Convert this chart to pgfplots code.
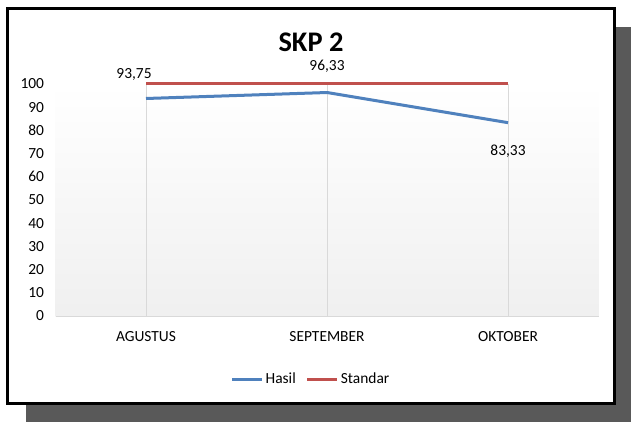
\documentclass[border=0pt]{standalone}
\usepackage{pgfplots}
\pgfplotsset{compat=1.18}
\usepackage{fontspec}
\setmainfont{Carlito}
\definecolor{hasil}{HTML}{4F81BD}
\definecolor{standar}{HTML}{C0504D}
\definecolor{gridc}{HTML}{D9D9D9}
\definecolor{shadowc}{HTML}{595959}
\begin{document}
\begin{tikzpicture}[x=1bp,y=1bp]
\useasboundingbox (0,0) rectangle (631,422);
\fill[shadowc] (26,0) rectangle (631,395);
\draw[line width=3bp, fill=white] (7.5,18.5) rectangle (614.5,413.5);
\node[font=\fontsize{28.5}{31}\selectfont\bfseries, inner sep=0pt] at (311,380) {SKP 2};
\begin{axis}[
  at={(55.5bp,106bp)}, anchor=south west,
  scale only axis, width=543bp, height=232bp,
  xmin=0, xmax=3, ymin=0, ymax=100,
  xtick={0.5,1.5,2.5},
  xticklabels={AGUSTUS,SEPTEMBER,OKTOBER},
  ytick={0,10,...,100},
  axis x line*=bottom, axis y line*=left,
  x axis line style={draw=gridc, line width=1bp, -},
  y axis line style={draw=none},
  major tick length=0pt,
  xmajorgrids, grid style={gridc, line width=0.8bp},
  axis background/.style={top color=white, bottom color=black!6},
  tick label style={font=\fontsize{15.5}{18}\selectfont},
  /pgf/number format/assume math mode=true,
  yticklabel style={anchor=east, xshift=-8bp},
  xticklabel style={anchor=north, yshift=-12bp},
  clip=false,
  legend style={at={(0.4705,-0.2716)}, anchor=center, draw=none, fill=none,
    legend columns=2, font=\fontsize{15.5}{18}\selectfont,
    /tikz/every even column/.append style={column sep=8bp}},
  legend image code/.code={\draw[#1] (0bp,0bp) -- (30bp,0bp);},
]
\addplot[hasil, line width=3bp, mark=none] coordinates {(0.5,93.75) (1.5,96.33) (2.5,83.33)};
\addlegendentry{Hasil}
\addplot[standar, line width=3bp, mark=none] coordinates {(0.5,100) (1.5,100) (2.5,100)};
\addlegendentry{Standar}
\node[font=\fontsize{15.5}{18}\selectfont, inner sep=0pt] at (axis cs:0.434,103.9) {93,75};
\node[font=\fontsize{15.5}{18}\selectfont, inner sep=0pt] at (axis cs:1.5,107.5) {96,33};
\node[font=\fontsize{15.5}{18}\selectfont, inner sep=0pt] at (axis cs:2.5,71.1) {83,33};
\end{axis}
\end{tikzpicture}
\end{document}
